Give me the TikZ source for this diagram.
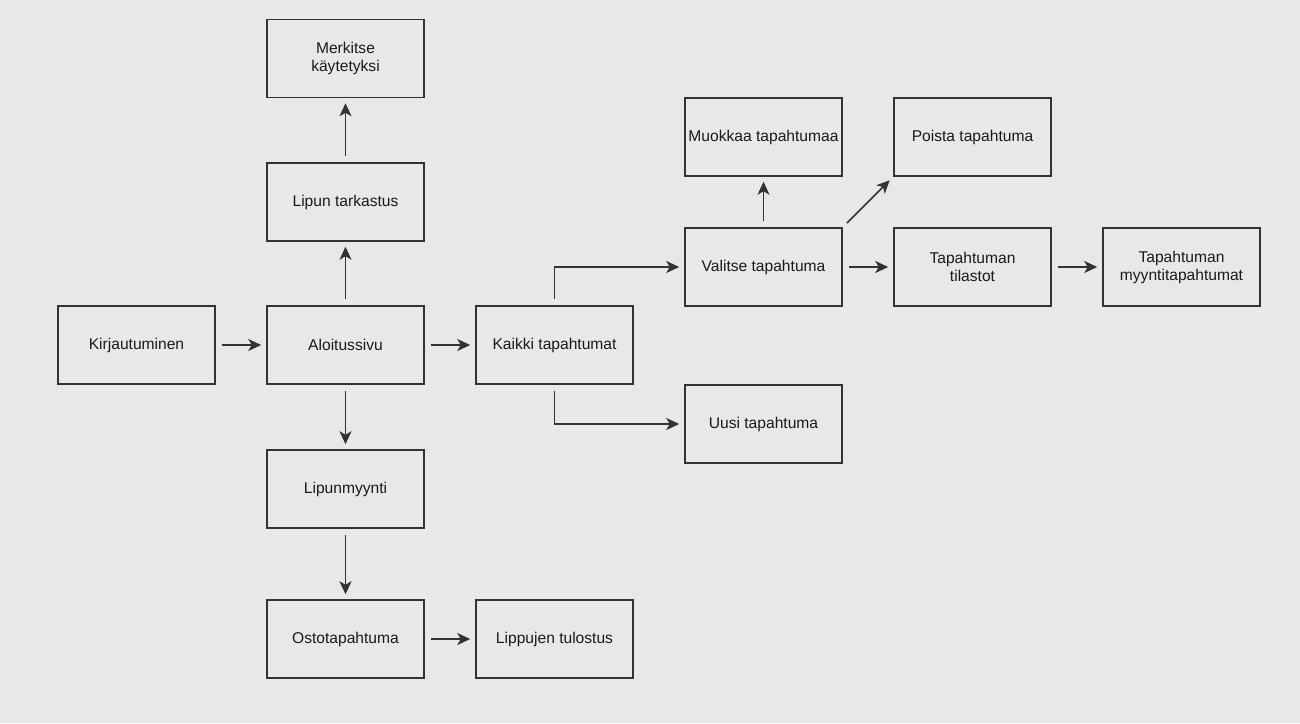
\documentclass[tikz,border=0pt]{standalone}
\usepackage{fontspec}
\setmainfont{Liberation Sans}
\usetikzlibrary{arrows.meta}
\definecolor{pagebg}{HTML}{E8E8E8}
\definecolor{edge}{HTML}{333333}
\definecolor{ink}{HTML}{1A1A1A}
\begin{document}
\begin{tikzpicture}[x=1pt,y=-1pt,
  box/.style={draw=edge, line width=1.5pt, fill=pagebg, minimum width=157pt, minimum height=78pt,
    inner sep=2pt, align=center, text=ink, font=\fontsize{15.6}{18}\selectfont},
  link/.style={draw=edge, line width=1.6pt, shorten <=6pt, shorten >=5pt,
    -{Stealth[length=13pt,width=12pt,inset=3.5pt]}}]
  \fill[pagebg] (0,0) rectangle (1300,723);
  \useasboundingbox (0,0) rectangle (1300,723);

  % main column
  \node[box] (merk) at (345.5,58.5) {Merkitse\\käytetyksi};
  \node[box] (lipt) at (345.5,202) {Lipun tarkastus};
  \node[box] (kirj) at (136.5,345) {Kirjautuminen};
  \node[box] (aloi) at (345.5,345) {Aloitussivu};
  \node[box] (kaik) at (554.5,345) {Kaikki tapahtumat};
  \node[box] (lipm) at (345.5,489) {Lipunmyynti};
  \node[box] (osto) at (345.5,639) {Ostotapahtuma};
  \node[box] (tulo) at (554.5,639) {Lippujen tulostus};

  % event management
  \node[box] (muok) at (763.5,137) {Muokkaa tapahtumaa};
  \node[box] (pois) at (972.5,137) {Poista tapahtuma};
  \node[box] (vali) at (763.5,267) {Valitse tapahtuma};
  \node[box] (tila) at (972.5,267) {Tapahtuman\\tilastot};
  \node[box] (myyn) at (1181.5,267) {Tapahtuman\\myyntitapahtumat};
  \node[box] (uusi) at (763.5,424) {Uusi tapahtuma};

  % connectors
  \draw[link] (kirj) -- (aloi);
  \draw[link] (aloi) -- (kaik);
  \draw[link] (aloi) -- (lipt);
  \draw[link] (lipt) -- (merk);
  \draw[link] (aloi) -- (lipm);
  \draw[link] (lipm) -- (osto);
  \draw[link] (osto) -- (tulo);
  \draw[link] (kaik.north) |- (vali.west);
  \draw[link] (kaik.south) |- (uusi.west);
  \draw[link] (vali) -- (muok);
  \draw[link] (vali.north east) -- (pois.south west);
  \draw[link] (vali) -- (tila);
  \draw[link] (tila) -- (myyn);
\end{tikzpicture}
\end{document}
